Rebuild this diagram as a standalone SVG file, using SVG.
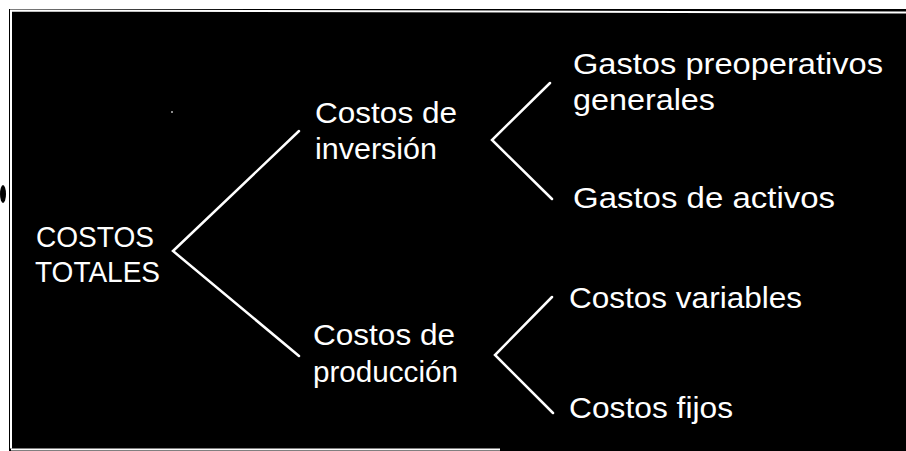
<svg xmlns="http://www.w3.org/2000/svg" width="906" height="451" viewBox="0 0 906 451">
<style>
  .t { font-family: "Liberation Sans", Arial, sans-serif; font-size: 29px; fill: #ffffff; }
  .c { stroke: #ffffff; stroke-width: 2.5; fill: none; stroke-linejoin: miter; stroke-linecap: round; }
</style>
<rect x="0" y="0" width="906" height="451" fill="#ffffff"/>
<rect x="9" y="9" width="897" height="442" fill="#000000"/>
<polyline points="11,448.5 11,10.5 906,12.5" fill="none" stroke="#ffffff" stroke-width="2"/>
<line x1="11" y1="449.5" x2="500" y2="449.5" stroke="#ffffff" stroke-width="2"/>
<ellipse cx="3" cy="194" rx="3" ry="9" fill="#000000"/>
<circle cx="172" cy="112" r="1" fill="#bbbbbb"/>
<g id="connectors">
  <polyline class="c" points="299,131 173,251 299,356"/>
  <polyline class="c" points="550,83 492,140 552,199"/>
  <polyline class="c" points="552,297 495,355 553,413"/>
</g>
<g id="costos-totales">
  <text class="t" x="36" y="247" textLength="118" lengthAdjust="spacingAndGlyphs">COSTOS</text>
  <text class="t" x="35" y="282" textLength="125" lengthAdjust="spacingAndGlyphs">TOTALES</text>
</g>
<g id="costos-inversion">
  <text class="t" x="315" y="123" textLength="142" lengthAdjust="spacingAndGlyphs">Costos de</text>
  <text class="t" x="315" y="159" textLength="122" lengthAdjust="spacingAndGlyphs">inversión</text>
</g>
<g id="costos-produccion">
  <text class="t" x="313" y="345" textLength="142" lengthAdjust="spacingAndGlyphs">Costos de</text>
  <text class="t" x="313" y="382" textLength="145" lengthAdjust="spacingAndGlyphs">producción</text>
</g>
<g id="gastos-preoperativos">
  <text class="t" x="573" y="74" textLength="310" lengthAdjust="spacingAndGlyphs">Gastos preoperativos</text>
  <text class="t" x="573" y="110" textLength="142" lengthAdjust="spacingAndGlyphs">generales</text>
</g>
<g id="gastos-activos">
  <text class="t" x="573" y="208" textLength="262" lengthAdjust="spacingAndGlyphs">Gastos de activos</text>
</g>
<g id="costos-variables">
  <text class="t" x="569" y="308" textLength="233" lengthAdjust="spacingAndGlyphs">Costos variables</text>
</g>
<g id="costos-fijos">
  <text class="t" x="569" y="418" textLength="164" lengthAdjust="spacingAndGlyphs">Costos fijos</text>
</g>
</svg>
